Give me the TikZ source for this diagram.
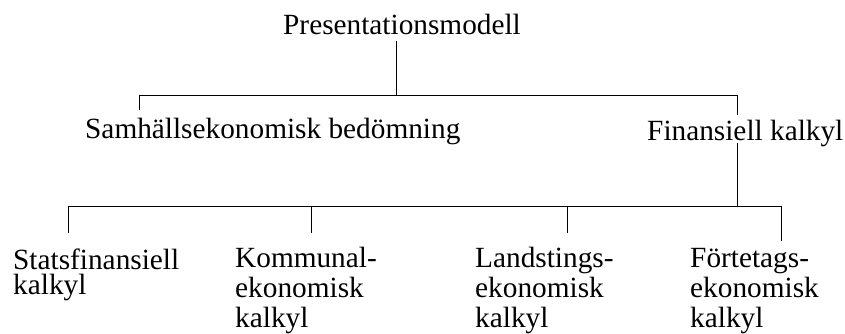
\documentclass[tikz,border=0pt]{standalone}
\usepackage{fontspec}
\setmainfont{Liberation Serif}
\begin{document}
\begin{tikzpicture}[x=1pt,y=-1pt,
  lbl/.style={anchor=base west,inner sep=0pt,font=\fontsize{29.3}{30}\selectfont},
  conn/.style={draw=black,line width=1pt}]
\useasboundingbox (0,0) rectangle (845,334);
% text nodes
\node[lbl] (top) at (283,35) {Presentationsmodell};
\node[lbl] (samh) at (85,139) {Samhällsekonomisk bedömning};
\node[lbl] (fin) at (647,140) {Finansiell kalkyl};
\node[lbl] (stat1) at (13,269) {Statsfinansiell};
\node[lbl] (stat2) at (13,294) {kalkyl};
\node[lbl] (komm1) at (235,267) {Kommunal-};
\node[lbl] (komm2) at (235,297) {ekonomisk};
\node[lbl] (komm3) at (235,327) {kalkyl};
\node[lbl] (land1) at (475,267) {Landstings-};
\node[lbl] (land2) at (475,297) {ekonomisk};
\node[lbl] (land3) at (475,327) {kalkyl};
\node[lbl] (fort1) at (690,267) {Förtetags-};
\node[lbl] (fort2) at (690,297) {ekonomisk};
\node[lbl] (fort3) at (690,327) {kalkyl};
% junction coordinates
\coordinate (t0) at (396,41);
\coordinate (j0) at (396,96);
\coordinate (jl) at (139,96);
\coordinate (jr) at (737,96);
\coordinate (sEnd) at (139,110);
\coordinate (fTop) at (737,115);
\coordinate (fBot) at (737,143);
\coordinate (j1) at (737,206);
\coordinate (b1) at (68,206);
\coordinate (b2) at (311,206);
\coordinate (b3) at (567,206);
\coordinate (b4) at (781,206);
\coordinate (d1) at (68,233);
\coordinate (d2) at (311,233);
\coordinate (d3) at (567,233);
\coordinate (d4) at (781,241);
% connectors
\draw[conn] (t0) -- (j0);
\draw[conn] (sEnd) -- (jl) -- (jr) -- (fTop);
\draw[conn] (fBot) -- (j1);
\draw[conn] (d1) -- (b1) -- (b4) -- (d4);
\draw[conn] (b2) -- (d2);
\draw[conn] (b3) -- (d3);
\end{tikzpicture}
\end{document}
